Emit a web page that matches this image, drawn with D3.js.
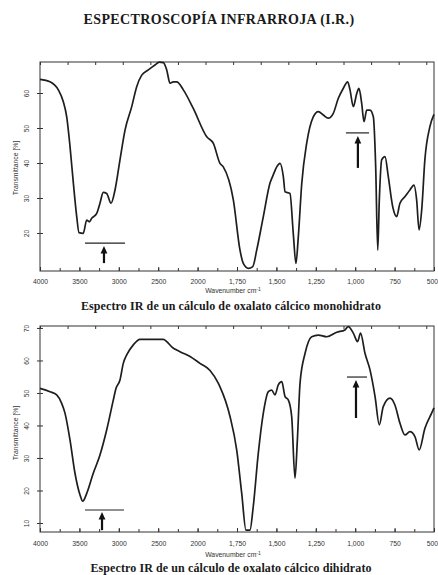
<!DOCTYPE html>
<html><head><meta charset="utf-8">
<script src="https://cdn.jsdelivr.net/npm/d3@7"></script>
<style>
html,body{margin:0;padding:0;background:#fff;}
svg{display:block;}
</style></head>
<body>
<script>
// ---- data ----
const xTickLabels = [4000, 3500, 3000, 2500, 2000, 1750, 1500, 1250, 1000, 750, 500];

const monoWn = [4000,3873,3768,3704,3661,3619,3577,3534,3505,3451,3407,3374,3344,3280,3239,3197,3154,3099,3048,2985,2921,2836,2773,2709,2625,2541,2486,2435,2392,2350,2308,2265,2181,2055,1942,1900,1858,1837,1773,1731,1710,1678,1650,1625,1583,1541,1520,1498,1477,1456,1445,1414,1393,1376,1361,1339,1308,1266,1234,1202,1171,1139,1107,1076,1048,1033,1012,990,976,959,944,927,906,885,870,857,847,832,811,790,762,737,716,684,653,627,610,595,578,558,526,500];
const monoT  = [63.9,63.2,60.9,57.5,53.2,44.7,34.3,24.7,20.1,19.9,23.7,23.2,24.2,25.6,28.5,31.6,31.3,28.5,32.3,40.9,49.4,56.1,61.8,65.1,66.6,68.0,68.8,68.7,66.6,62.8,63.2,63.2,60.9,55.6,47.5,45.6,39.9,38.9,29.4,15.1,11.3,9.9,10.4,15.1,24.7,34.2,36.6,38.9,39.9,36.1,31.8,31.3,19.9,11.3,18.9,34.2,45.6,53.2,54.7,53.7,52.8,54.2,58.5,61.3,63.2,60.9,56.1,59.9,61.3,57.1,51.8,55.1,55.1,53.2,38.9,15.1,29.4,40.9,41.8,36.1,27.5,24.7,28.5,30.4,32.3,33.7,29.4,20.9,26.6,40.9,50.4,53.9];

const diWn = [4000,3873,3788,3725,3683,3619,3556,3492,3458,3407,3324,3239,3154,3070,3036,2985,2943,2900,2816,2731,2646,2435,2392,2329,2223,2096,1985,1921,1869,1858,1794,1752,1720,1693,1668,1647,1615,1583,1551,1530,1509,1488,1466,1445,1424,1403,1382,1367,1350,1318,1276,1234,1181,1117,1065,1044,1012,985,966,938,906,874,847,822,779,748,716,684,653,621,594,558,515,500];
const diT  = [51.4,50.4,49.4,46.8,43.8,35.5,25.3,18.6,16.7,19.1,25.3,30.9,38.6,47.8,51.4,54.0,59.1,61.7,64.8,66.5,66.5,66.5,65.8,64.2,62.7,61.2,59.1,56.9,53.0,51.9,42.7,32.5,19.1,7.8,7.8,15.0,31.4,43.8,50.4,50.9,49.4,52.5,53.5,48.9,47.8,42.7,23.8,35.5,53.0,62.2,67.3,67.8,67.3,68.7,69.4,70.4,68.4,65.8,68.4,62.2,57.1,48.9,40.2,45.8,48.4,46.3,40.7,37.1,38.1,36.6,32.5,39.1,43.8,45.4];

const monoYTicks = [60, 50, 40, 30, 20];
const diYTicks = [70, 60, 50, 40, 30, 20, 10];

// marker bars + arrows: [wnFrom, wnTo, barT, arrowWn, arrowFromT, arrowToT]
const monoMarks = [[3429, 2921, 17.1, 3188, 11.4, 16.3], [1059, 912, 48.6, 983, 38.6, 47.7]];
const diMarks   = [[3429, 2934, 14.0, 3213, 7.8, 13.4], [1052, 925, 54.9, 995, 42.3, 54.0]];

const title = "ESPECTROSCOPÍA INFRARROJA (I.R.)";
const monoCaption = "Espectro IR de un cálculo de oxalato cálcico monohidrato";
const diCaption = "Espectro IR de un cálculo de oxalato cálcico dihidrato";
const yTitle = "Transmittance [%]";

// ---- drawing ----
const W = 438, H = 575;
const svg = d3.select("body").append("svg").attr("width", W).attr("height", H);

svg.append("text").attr("x", 219).attr("y", 24).attr("text-anchor", "middle")
  .attr("font-family", "Liberation Serif, serif").attr("font-weight", "bold")
  .attr("font-size", 14).attr("letter-spacing", 0.4).attr("fill", "#1a1a1a").text(title);

const xL = 40, xR = 434;
const step = (xR - xL) / 10;

function panel(cfg) {
  const x = d3.scaleLinear().domain([4000, 2000, 500]).range([xL, xL + 4 * step, xR]);
  const y = d3.scaleLinear().domain(cfg.yDomain).range([cfg.bottom, cfg.top]);
  const g = svg.append("g");

  // frame
  g.append("rect").attr("x", xL).attr("y", cfg.top).attr("width", xR - xL).attr("height", cfg.bottom - cfg.top)
    .attr("fill", "none").attr("stroke", "#333").attr("stroke-width", 1);

  // bottom ticks (inward)
  const minor = d3.range(4000, 2000, -250).concat(d3.range(2000, 499, -125));
  g.append("g").attr("transform", `translate(0,${cfg.bottom})`)
    .call(d3.axisBottom(x).tickValues(minor).tickSize(-3).tickFormat(""))
    .call(s => s.select(".domain").remove())
    .selectAll("line").attr("stroke", "#333");
  g.append("g").attr("transform", `translate(0,${cfg.bottom})`)
    .call(d3.axisBottom(x).tickValues(xTickLabels).tickSize(-4).tickPadding(cfg.labelPad)
      .tickFormat(d => d >= 1000 && d < 2000 ? d3.format(",")(d) : (d === 1750 ? "1,750" : d)))
    .call(s => s.select(".domain").remove())
    .call(s => s.selectAll("line").attr("stroke", "#333"))
    .call(s => s.selectAll("text").attr("font-family", "Liberation Sans, sans-serif")
      .attr("font-size", 6.8).attr("fill", "#333")
      .filter(d => d === 500).attr("text-anchor", "end").attr("x", 3.5));

  // top ticks, uniform
  const xt = d3.scaleLinear().domain([0, 14.28]).range([xL, xR]);
  g.append("g").attr("transform", `translate(0,${cfg.top})`)
    .call(d3.axisTop(xt).tickValues(d3.range(0, 15)).tickSize(-3).tickFormat(""))
    .call(s => s.select(".domain").remove())
    .selectAll("line").attr("stroke", "#333");

  // y ticks + rotated labels
  const ya = g.append("g").attr("transform", `translate(${xL},0)`)
    .call(d3.axisLeft(y).tickValues(cfg.yTicks).tickSize(-3).tickPadding(0).tickFormat(d => d))
    .call(s => s.select(".domain").remove());
  ya.selectAll("line").attr("stroke", "#333");
  ya.selectAll("text").attr("x", null).attr("dy", null)
    .attr("transform", "translate(-11,0) rotate(-90)")
    .attr("text-anchor", "middle").attr("font-family", "Liberation Sans, sans-serif")
    .attr("font-size", 6.8).attr("fill", "#333");
  ya.selectAll(".tick").append("line").attr("x1", -3).attr("x2", 0).attr("stroke", "#333");

  g.append("text").attr("transform", `translate(18,${cfg.yTitleY}) rotate(-90)`)
    .attr("text-anchor", "middle").attr("font-family", "Liberation Sans, sans-serif")
    .attr("font-size", 6.8).attr("fill", "#333").text(yTitle);

  // axis title
  const xtEl = g.append("text").attr("x", 233).attr("y", cfg.bottom + cfg.titleOff).attr("text-anchor", "middle")
    .attr("font-family", "Liberation Sans, sans-serif").attr("font-size", 6.8).attr("fill", "#333");
  xtEl.append("tspan").text("Wavenumber  cm");
  xtEl.append("tspan").attr("dy", -2.5).attr("font-size", 5).text("-1");

  // caption
  g.append("text").attr("x", 231).attr("y", cfg.bottom + cfg.capOff).attr("text-anchor", "middle")
    .attr("font-family", "Liberation Serif, serif").attr("font-weight", "bold")
    .attr("font-size", 12).attr("letter-spacing", 0.1).attr("fill", "#1a1a1a").text(cfg.caption);

  // spectrum
  const pts = cfg.wn.map((w, i) => [w, cfg.T[i]]);
  g.append("path").datum(pts)
    .attr("d", d3.line().x(d => x(d[0])).y(d => y(d[1])).curve(d3.curveMonotoneX))
    .attr("fill", "none").attr("stroke", "#1e1e1e").attr("stroke-width", 1.7).attr("stroke-linejoin", "round");

  // marks
  cfg.marks.forEach(m => {
    g.append("line").attr("x1", x(m[0])).attr("x2", x(m[1])).attr("y1", y(m[2])).attr("y2", y(m[2]))
      .attr("stroke", "#222").attr("stroke-width", 1.2);
    const ax = x(m[3]), y0 = y(m[4]), y1 = y(m[5]);
    g.append("line").attr("x1", ax).attr("x2", ax).attr("y1", y0).attr("y2", y1 + 5)
      .attr("stroke", "#111").attr("stroke-width", 2.2);
    g.append("path").attr("d", `M${ax},${y1} L${ax - 3.4},${y1 + 7.5} L${ax + 3.4},${y1 + 7.5} Z`).attr("fill", "#111");
  });
}

panel({top: 62, bottom: 271, yDomain: [9.14, 68.86], yTicks: monoYTicks, wn: monoWn, T: monoT,
  marks: monoMarks, caption: monoCaption, yTitleY: 168, labelPad: 8, titleOff: 22, capOff: 39});
panel({top: 326, bottom: 532, yDomain: [7.23, 70.6], yTicks: diYTicks, wn: diWn, T: diT,
  marks: diMarks, caption: diCaption, yTitleY: 433, labelPad: 9, titleOff: 25, capOff: 40});
</script>
</body></html>
